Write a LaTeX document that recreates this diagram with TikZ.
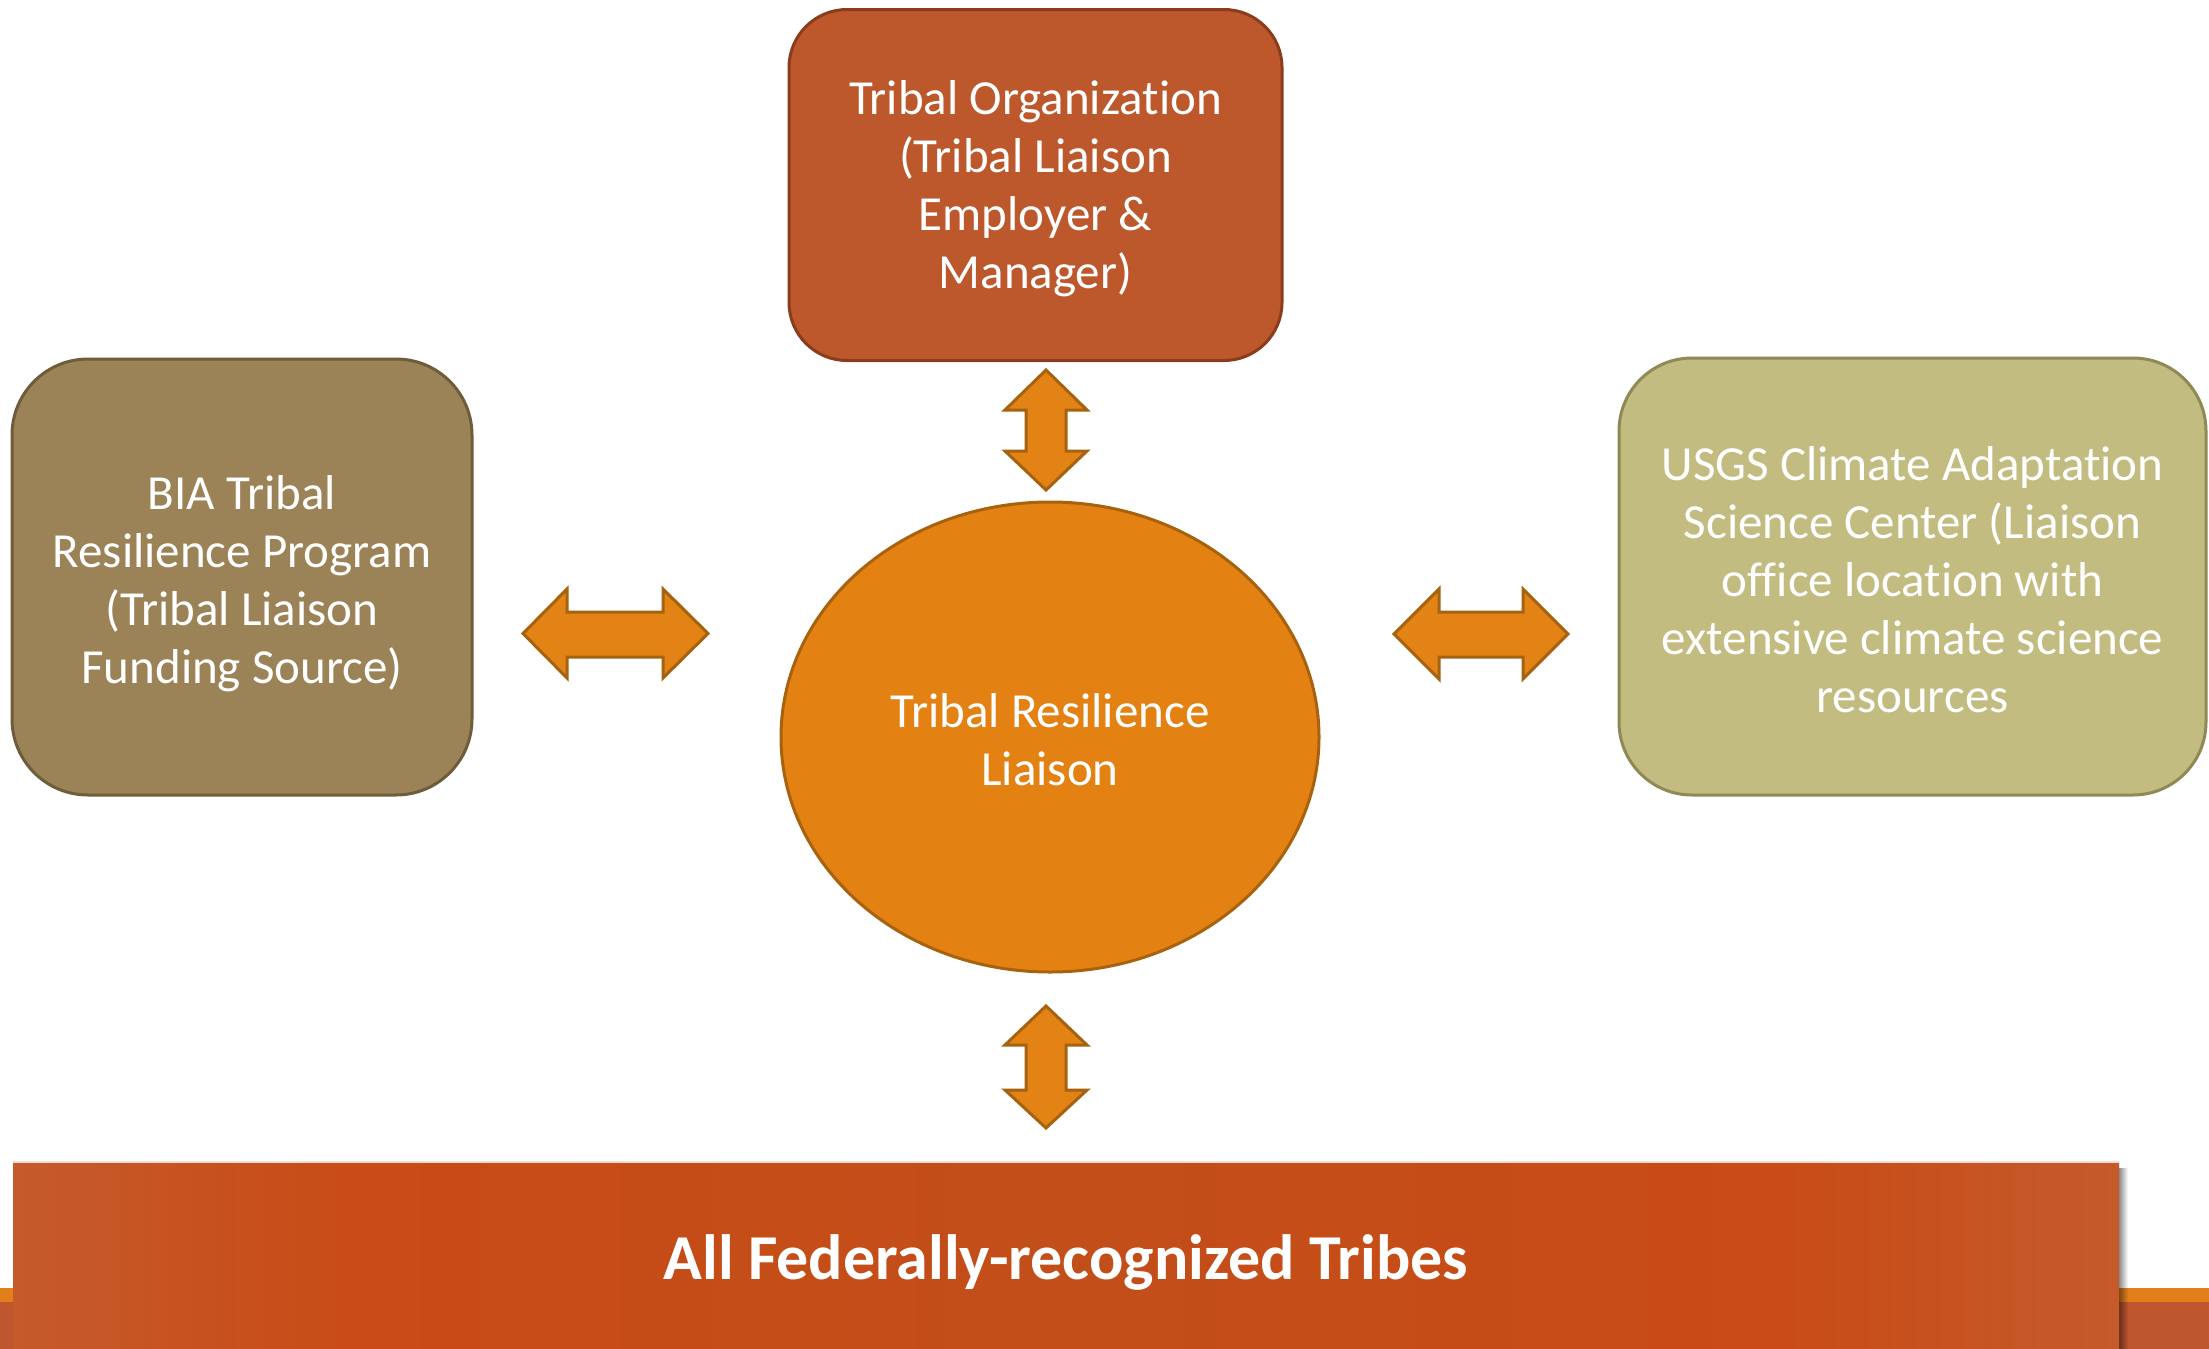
\documentclass[tikz,border=0pt]{standalone}
\usepackage{fontspec}
\setmainfont{Carlito}[Ligatures={NoCommon}]
\usetikzlibrary{shapes.geometric,fadings}
\definecolor{topfill}{HTML}{BC582C}
\definecolor{topline}{HTML}{8A3C1C}
\definecolor{leftfill}{HTML}{9B8357}
\definecolor{leftline}{HTML}{6E5C3A}
\definecolor{rightfill}{HTML}{C3BC81}
\definecolor{rightline}{HTML}{8E8A55}
\definecolor{ellfill}{HTML}{E38113}
\definecolor{ellline}{HTML}{A8620E}
\definecolor{arrfill}{HTML}{E38215}
\definecolor{arrline}{HTML}{A5620F}
\definecolor{barA}{HTML}{C55A2B}
\definecolor{barB}{HTML}{C94B15}
\definecolor{barC}{HTML}{C24E1A}
\definecolor{stripO}{HTML}{E1801A}
\definecolor{stripB}{HTML}{BE5630}
\pgfdeclarehorizontalshading{barshade}{100bp}{color(0bp)=(barA); color(25bp)=(barA); color(33.5bp)=(barB); color(50bp)=(barC); color(66.5bp)=(barB); color(75bp)=(barA); color(100bp)=(barA)}
\tikzset{
  boxtext/.style={text=white, align=center, font=\fontsize{49}{58}\selectfont, inner sep=0pt},
  rbox/.style={rectangle, line width=3pt, inner sep=0pt},
  blockarrow/.style={fill=arrfill, draw=arrline, line width=3pt, line join=miter},
}
\begin{document}
\begin{tikzpicture}[x=1pt,y=-1pt]
\useasboundingbox (0,0) rectangle (2209,1349);
% bottom strip
\fill[stripO] (0,1288) rectangle (2209,1302);
\fill[stripB] (0,1302) rectangle (2209,1349);
% shadow of bar
\fill[black, opacity=0.45, path fading=east] (2119,1168) rectangle (2128,1349);
% bar
\node[rectangle, shading=barshade, minimum width=2106pt, minimum height=187pt, inner sep=0pt] (tribes) at (1066,1255.5) {};
\node[text=white, inner sep=0pt, font=\fontsize{64}{72}\selectfont\bfseries, yshift=-7pt] (tribestext) at (tribes.center) {All Federally-recognized Tribes};
\draw[white!80!barA, line width=1.5pt] (tribes.north west) -- (tribes.north east);
% boxes
\node[rbox, fill=topfill, draw=topline, rounded corners=58pt, minimum width=493pt, minimum height=351pt] (org) at (1035.5,185) {};
\node[boxtext, yshift=-4pt] (orgtext) at (org.center)
  {Tribal Organization\\(Tribal Liaison\\Employer \&\\Manager)};
\node[rbox, fill=leftfill, draw=leftline, rounded corners=76pt, minimum width=460pt, minimum height=436pt] (bia) at (242,577) {};
\node[boxtext, yshift=-7pt] (biatext) at (bia.center)
  {BIA Tribal\\Resilience Program\\(Tribal Liaison\\Funding Source)};
\node[rbox, fill=rightfill, draw=rightline, rounded corners=73pt, minimum width=587pt, minimum height=437pt] (usgs) at (1912.5,576.5) {};
\node[boxtext, yshift=-3pt] (usgstext) at (usgs.center)
  {USGS Climate Adaptation\\Science Center (Liaison\\office location with\\extensive climate science\\resources};
\node[ellipse, fill=ellfill, draw=ellline, line width=3pt, inner sep=0pt, minimum width=538pt, minimum height=470pt] (liaison) at (1050,737) {};
\node[boxtext, yshift=-3pt] (liaisontext) at (liaison.center) {Tribal Resilience\\Liaison};
% block arrows
\draw[blockarrow] (523,633.5) -- (567,589) -- (567,612) -- (663,612) -- (663,589) -- (708,633.5)
  -- (663,678) -- (663,657) -- (567,657) -- (567,678) -- cycle;
\draw[blockarrow] (1394,634) -- (1439,589) -- (1439,612) -- (1523,612) -- (1523,589) -- (1568,634)
  -- (1523,679) -- (1523,657) -- (1439,657) -- (1439,679) -- cycle;
\draw[blockarrow] (1046,370) -- (1087,410) -- (1066,410) -- (1066,451) -- (1087,451) -- (1046,490)
  -- (1005,451) -- (1026,451) -- (1026,410) -- (1005,410) -- cycle;
\draw[blockarrow] (1046,1006) -- (1087,1045) -- (1066,1045) -- (1066,1090) -- (1087,1090) -- (1046,1128)
  -- (1005,1090) -- (1026,1090) -- (1026,1045) -- (1005,1045) -- cycle;
\end{tikzpicture}
\end{document}
